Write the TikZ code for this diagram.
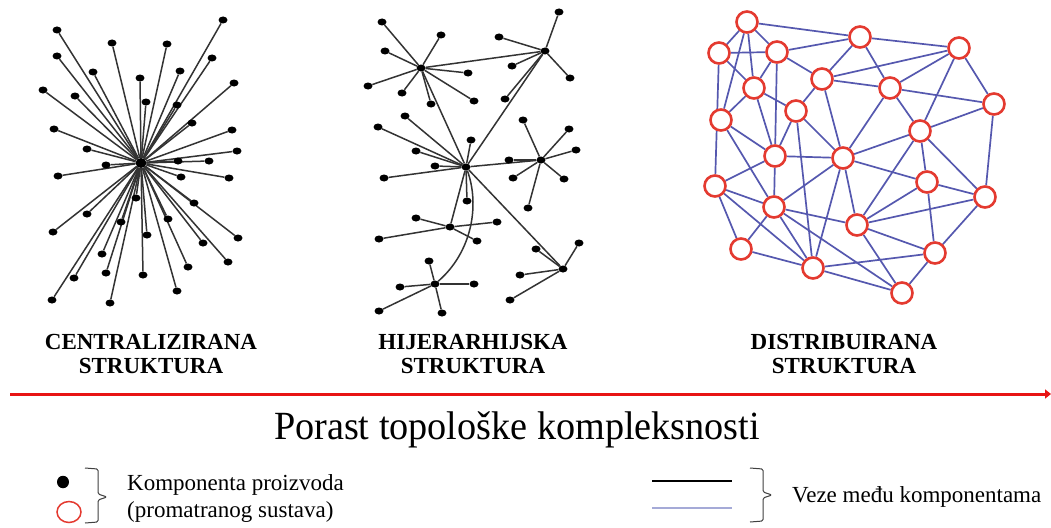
\documentclass[tikz,border=0pt]{standalone}
\usepackage{fontspec}
\usepackage{graphicx}
\setmainfont{Liberation Serif}
\usetikzlibrary{shapes.geometric,arrows.meta,backgrounds}
\definecolor{netblue}{RGB}{85,88,175}
\definecolor{legblue}{RGB}{165,170,215}
\definecolor{netred}{RGB}{228,58,48}
\definecolor{arrred}{RGB}{232,20,20}
\tikzset{
  dotnode/.style={ellipse, fill=black, inner sep=0pt, minimum width=9pt, minimum height=7pt},
  ring/.style={circle, draw=netred, line width=2.6pt, fill=white, minimum size=21pt, inner sep=0pt},
  spoke/.style={draw=black!80, line width=1.5pt},
  link/.style={draw=netblue, line width=1.7pt},
  title/.style={font=\fontsize{23}{24}\selectfont\bfseries, align=center, inner sep=0pt},
  legtext/.style={font=\fontsize{23}{26}\selectfont, anchor=base west, inner sep=0pt},
  brace/.style={draw=black!75, line width=1pt, rounded corners=1.5pt}
}
\begin{document}
\begin{tikzpicture}[x=1pt,y=-1pt]
\begin{scope}[on background layer]
\fill[white] (0,0) rectangle (1051,527);
\end{scope}
\useasboundingbox (0,0) rectangle (1051,527);

% ---------- centralised ----------
\node[dotnode, minimum width=11pt, minimum height=10pt] (c0) at (141,163) {};
\foreach \x/\y [count=\i] in {57/30,112/43,167/44,223/20,57/56,93/72,140/78,180/71,212/58,
  43/90,75/96,146/102,177/105,234/83,192/123,54/129,87/149,232/130,237/151,106/165,
  178/161,209/161,58/176,181/177,229/178,136/198,194/203,87/214,53/232,121/222,
  168/219,238/238,147/235,203/243,102/254,228/262,74/278,106/273,143/275,188/267,
  177/291,52/300,110/303}
  {\node[dotnode] (l\i) at (\x,\y) {};}
\begin{scope}[on background layer]
  \foreach \i in {1,...,43} \draw[spoke] (c0) -- (l\i);
\end{scope}

% ---------- hierarchical ----------
\node[dotnode] (m1) at (421,68) {};
\node[dotnode] (m2) at (545,51) {};
\node[dotnode] (m3) at (466,167) {};
\node[dotnode] (m4) at (541,160) {};
\node[dotnode] (m5) at (450,227) {};
\node[dotnode] (m6) at (435,284) {};
\node[dotnode] (m7) at (563,269) {};
\foreach \x/\y [count=\i] in {382/22,441/35,385/51,468/73,368/86,402/93,431/104,474/101}
  {\node[dotnode] (a\i) at (\x,\y) {};}
\foreach \x/\y [count=\i] in {559/12,499/37,512/66,570/78,505/99}
  {\node[dotnode] (b\i) at (\x,\y) {};}
\foreach \x/\y [count=\i] in {405/116,378/127,471/140,416/151,435/166,384/178,467/201}
  {\node[dotnode] (d\i) at (\x,\y) {};}
\foreach \x/\y [count=\i] in {523/120,569/129,576/150,509/160,513/178,564/179,528/208}
  {\node[dotnode] (e\i) at (\x,\y) {};}
\foreach \x/\y [count=\i] in {416/218,497/222,379/239,477/241}
  {\node[dotnode] (f\i) at (\x,\y) {};}
\foreach \x/\y [count=\i] in {429/261,400/287,474/284,379/311,442/313}
  {\node[dotnode] (g\i) at (\x,\y) {};}
\foreach \x/\y [count=\i] in {579/243,536/249,520/275,510/300}
  {\node[dotnode] (k\i) at (\x,\y) {};}
\begin{scope}[on background layer]
  \foreach \i in {1,...,8} \draw[spoke] (m1) -- (a\i);
  \foreach \i in {1,...,5} \draw[spoke] (m2) -- (b\i);
  \foreach \i in {1,...,7} \draw[spoke] (m3) -- (d\i);
  \foreach \i in {1,...,7} \draw[spoke] (m4) -- (e\i);
  \foreach \i in {1,...,4} \draw[spoke] (m5) -- (f\i);
  \foreach \i in {1,...,5} \draw[spoke] (m6) -- (g\i);
  \foreach \i in {1,...,4} \draw[spoke] (m7) -- (k\i);
  \draw[spoke] (m1) -- (m2);
  \draw[spoke] (m1) -- (m3);
  \draw[spoke] (m2) -- (m3);
  \draw[spoke] (m3) -- (m4);
  \draw[spoke] (m3) -- (m5);
  \draw[spoke] (m3) -- (m7);
  \draw[spoke] (m3) .. controls (480,205) and (472,252) .. (m6);
\end{scope}

% ---------- distributed ----------
\foreach \n/\x/\y in {A/747/22,B/860/37,C/959/48,D/719/53,E/777/52,F/822/79,G/754/88,
  H/890/88,I/994/104,J/796/111,K/721/120,L/920/131,M/775/156,N/843/158,O/715/186,
  P/927/182,Q/985/197,R/774/207,S/857/225,T/741/249,U/935/253,V/813/268,W/902/293}
  {\node[ring] (r\n) at (\x,\y) {};}
\begin{scope}[on background layer]
\foreach \a/\b in {A/B,A/D,A/E,A/G,A/K,D/E,D/G,D/O,E/B,E/F,E/G,E/M,B/F,B/H,B/C,
  F/C,F/H,F/J,F/N,H/C,H/I,H/L,H/N,C/I,C/L,G/J,G/K,G/M,J/M,J/N,J/V,K/M,K/R,
  I/Q,I/L,L/N,L/P,L/Q,L/S,M/N,M/O,M/R,N/R,N/P,N/S,N/V,O/R,O/T,O/V,
  R/T,R/V,R/S,R/W,P/Q,P/U,P/S,S/Q,S/U,S/W,T/V,V/U,V/W,U/Q,U/W}
  \draw[link] (r\a) -- (r\b);
\end{scope}

% ---------- titles ----------
\node[title] (t1) at (151,354) {CENTRALIZIRANA\\STRUKTURA};
\node[title] (t2) at (473,354) {HIJERARHIJSKA\\STRUKTURA};
\node[title] (t3) at (844,354) {DISTRIBUIRANA\\STRUKTURA};

% ---------- arrow ----------
\coordinate (arrS) at (10,394);
\coordinate (arrE) at (1051,394);
\draw[arrred, line width=3pt, -{Triangle[length=6pt,width=9pt]}] (arrS) -- (arrE);
\node[font=\fontsize{40}{42}\selectfont, anchor=base, inner sep=0pt] (por) at (517,439) {\scalebox{0.955}[1]{Porast topološke kompleksnosti}};

% ---------- legend ----------
\node[ellipse, fill=black, inner sep=0pt, minimum width=12pt, minimum height=12.5pt] (ldot) at (63,482) {};
\node[ellipse, draw=netred, line width=1.5pt, fill=white, inner sep=0pt, minimum width=24pt, minimum height=21pt] (lring) at (69,512) {};
\draw[brace] (85,468) -- (98,469) -- (98,494) -- (107,497) -- (98,500) -- (98,522) -- (85,523);
\node[legtext] (lt1) at (127,490) {Komponenta proizvoda};
\node[legtext] (lt2) at (127,517) {(promatranog sustava)};
\coordinate (k1a) at (652,481);
\coordinate (k1b) at (732,481);
\coordinate (k2a) at (652,508);
\coordinate (k2b) at (732,508);
\draw[black, line width=1.2pt] (k1a) -- (k1b);
\draw[legblue, line width=1.5pt] (k2a) -- (k2b);
\draw[brace] (750,468) -- (763,469) -- (763,492) -- (772,495) -- (763,498) -- (763,521) -- (750,522);
\node[legtext] (lt3) at (792,502) {Veze među komponentama};
\end{tikzpicture}
\end{document}
